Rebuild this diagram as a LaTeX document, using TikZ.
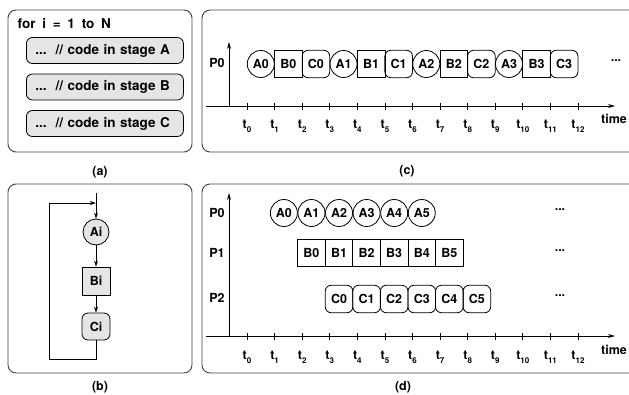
\documentclass[tikz,border=0pt]{standalone}
\usepackage{fontspec}
\setmainfont{TeX Gyre Heros}
\newfontfamily\codefont{TeX Gyre Heros}[WordSpace=1.8]
\usetikzlibrary{arrows.meta}

\tikzset{
  panel/.style={draw=black!75, line width=0.9pt, rounded corners=8pt},
  stagebox/.style={draw, fill=black!10, rounded corners=6pt, anchor=west,
    minimum height=26pt, text width=139pt, inner xsep=9pt, align=left,
    font=\codefont\fontsize{13.5}{15}\selectfont\bfseries},
  opA/.style={draw, circle, minimum size=27pt, inner sep=0pt},
  opB/.style={draw, rectangle, minimum width=27.6pt, minimum height=27.5pt, inner sep=0pt},
  opC/.style={draw, rectangle, rounded corners=6pt, minimum width=27.6pt, minimum height=27.5pt, inner sep=0pt},
  axis/.style={line width=0.8pt, -{Stealth[length=7pt,width=4pt]}},
  flow/.style={line width=0.8pt, -{Stealth[length=6pt,width=4pt]}},
}
\newcommand{\tsub}[1]{t\raisebox{-4pt}{\footnotesize #1}}
\def\tstep{27.58}

\begin{document}
\begin{tikzpicture}[x=1pt, y=-1pt, line width=0.8pt, font=\fontsize{12.5}{14}\selectfont\bfseries]
  \useasboundingbox (0,0) rectangle (629,394);
  % (a) loop code
  \draw[panel] (8,10) rectangle (192,152);
  \node[anchor=west, font=\codefont\fontsize{13.5}{15}\selectfont\bfseries] (forLine) at (14,24) {for i = 1 to N};
  \node[stagebox] (stA) at (26,50.5) {...\ \ // code in stage A};
  \node[stagebox] (stB) at (26,87) {...\ \ // code in stage B};
  \node[stagebox] (stC) at (26,123.5) {...\ \ // code in stage C};
  \node (la) at (100,172) {(a)};

  % (b) loop as flow
  \draw[panel] (8,184) rectangle (192,373);
  \coordinate (bTop) at (96,193);
  \coordinate (bJoin) at (96,203);
  \node[opA, fill=black!10, minimum size=26pt] (Ai) at (96,232) {Ai};
  \node[opB, fill=black!10, minimum width=28pt, minimum height=28pt] (Bi) at (96,281) {Bi};
  \node[opC, fill=black!10, minimum width=28pt, minimum height=27pt] (Ci) at (96,326.5) {Ci};
  \draw[flow] (bTop) -- (Ai);
  \draw[flow] (Ai) -- (Bi);
  \draw[flow] (Bi) -- (Ci);
  \draw[flow] (Ci.south) |- (49,359) |- (bJoin);
  \node (lb) at (100,387) {(b)};

  % (c) one processor
  \draw[panel] (629,10) -- (202,10) -- (202,152) -- (629,152);
  \node (cP0) at (217,63) {P0};
  \draw[axis] (229,106) -- (229,42);
  \draw[axis] (206,106) -- (615,106);
  \foreach \k in {0,...,12} {
    \draw (247+\k*\tstep,102.5) -- ++(0,7);
    \node (ct\k) at (247+\k*\tstep,126) {\tsub{\k}};
  }
  \node (cTime) at (614,119) {time};
  \foreach \i in {0,...,3} {
    \node[opA] (cA\i) at (247+3*\i*\tstep+0.5*\tstep,64) {A\i};
    \node[opB] (cB\i) at (247+3*\i*\tstep+1.5*\tstep,64) {B\i};
    \node[opC] (cC\i) at (247+3*\i*\tstep+2.5*\tstep,64) {C\i};
  }
  \node (cDots) at (616,61) {...};
  \node (lc) at (407,171) {(c)};

  % (d) three processors
  \draw[panel] (629,184) -- (202,184) -- (202,373) -- (629,373);
  \node (dP0) at (217,213) {P0};
  \node (dP1) at (217,253) {P1};
  \node (dP2) at (217,298) {P2};
  \draw[axis] (229,336) -- (229,193);
  \draw[axis] (206,336) -- (615,336);
  \foreach \k in {0,...,12} {
    \draw (247+\k*\tstep,332.5) -- ++(0,7);
    \node (dt\k) at (247+\k*\tstep,357) {\tsub{\k}};
  }
  \node (dTime) at (614,350) {time};
  \foreach \i in {0,...,5} {
    \node[opA] (dA\i) at (242.5+\i*\tstep+1.5*\tstep,213) {A\i};
    \node[opB] (dB\i) at (242.5+\i*\tstep+2.5*\tstep,253) {B\i};
    \node[opC] (dC\i) at (242.5+\i*\tstep+3.5*\tstep,299) {C\i};
  }
  \node (dDots0) at (560,210) {...};
  \node (dDots1) at (560,251) {...};
  \node (dDots2) at (560,296) {...};
  \node (ld) at (403,387) {(d)};
\end{tikzpicture}
\end{document}
